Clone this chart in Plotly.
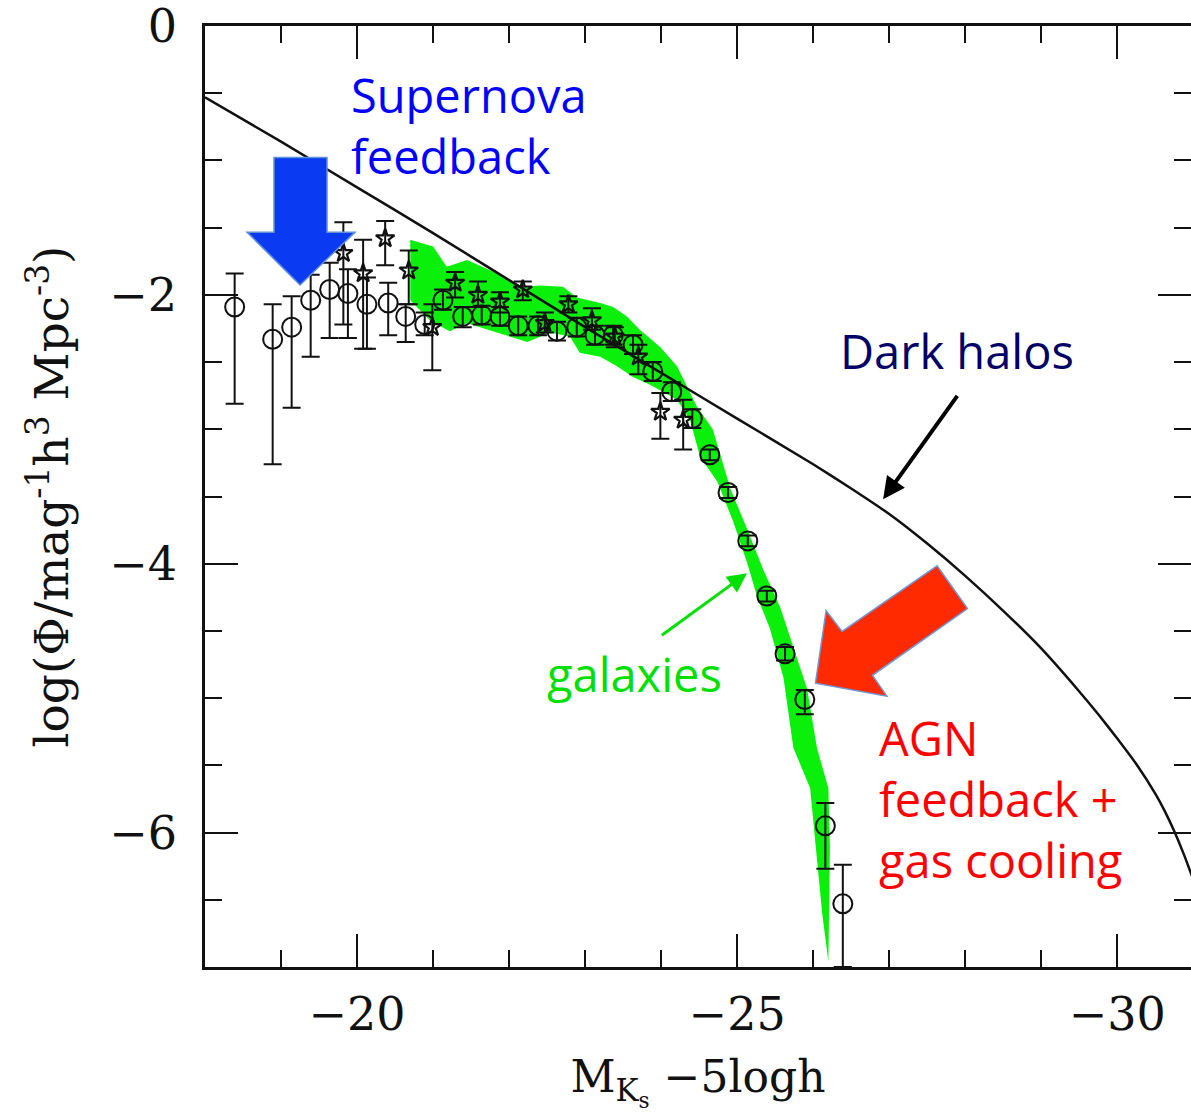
import plotly.graph_objects as go

# ---------------- data ----------------
# Dark-halo mass function (solid black line)
halo_M = [-18.0, -19.0, -20.0, -21.0, -22.0, -23.0, -24.0, -25.0, -26.0, -26.5,
          -27.0, -27.5, -28.0, -28.5, -29.0, -29.5, -29.75, -30.0, -30.25, -30.5,
          -30.625, -30.75, -30.875, -31.0]
halo_logphi = [-0.53, -0.86, -1.20, -1.54, -1.89, -2.24, -2.58, -2.92, -3.26, -3.44,
               -3.63, -3.85, -4.09, -4.35, -4.63, -4.95, -5.12, -5.30, -5.49, -5.71,
               -5.84, -5.99, -6.16, -6.35]

# Green model band (upper and lower edges)
band_upper_M = [-20.70, -21.00, -21.18, -21.45, -21.88, -22.18, -22.41, -22.71, -22.89, -23.20,
                -23.37, -23.55, -23.72, -23.99, -24.21, -24.47, -24.68, -24.78, -24.91, -25.13,
                -25.34, -25.57, -25.74, -25.92, -26.05, -26.20, -26.22, -26.20]
band_upper = [-1.59, -1.64, -1.79, -1.74, -1.85, -1.94, -1.93, -1.94, -2.02, -2.06,
              -2.09, -2.16, -2.26, -2.39, -2.53, -2.83, -3.00, -3.20, -3.44, -3.74,
              -4.04, -4.33, -4.63, -4.93, -5.37, -5.67, -6.11, -6.96]
band_lower_M = [-20.70, -20.96, -21.22, -21.45, -21.84, -22.24, -22.54, -22.80, -22.93, -23.20,
                -23.42, -23.63, -23.86, -24.21, -24.38, -24.51, -24.74, -24.95, -25.13, -25.26,
                -25.43, -25.61, -25.74, -25.96, -26.03, -26.12]
band_lower = [-2.04, -2.19, -2.27, -2.21, -2.28, -2.35, -2.28, -2.31, -2.43, -2.46,
              -2.53, -2.61, -2.67, -2.78, -2.93, -3.20, -3.39, -3.69, -3.99, -4.24,
              -4.48, -4.85, -5.37, -5.67, -6.11, -6.61]

# Open circles with error bars
circ_M = [-18.39, -18.89, -19.14, -19.39, -19.64, -19.88, -20.13, -20.41, -20.64, -20.89,
          -21.13, -21.39, -21.64, -21.88, -22.12, -22.38, -22.63, -22.89, -23.13, -23.37,
          -23.63, -23.89, -24.14, -24.41, -24.64, -24.88, -25.14, -25.39, -25.63, -25.89,
          -26.16, -26.39]
circ_logphi = [-2.09, -2.33, -2.24, -2.04, -1.96, -1.99, -2.07, -2.06, -2.16, -2.22,
               -2.04, -2.16, -2.15, -2.16, -2.23, -2.23, -2.27, -2.24, -2.30, -2.30,
               -2.37, -2.57, -2.72, -2.92, -3.19, -3.47, -3.83, -4.24, -4.67, -5.01,
               -5.95, -6.53]
circ_err_plus = [0.25, 0.26, 0.23, 0.19, 0.20, 0.18, 0.20, 0.15, 0.09, 0.09,
                 0.08, 0.07, 0.07, 0.07, 0.07, 0.07, 0.07, 0.07, 0.07, 0.07,
                 0.07, 0.07, 0.07, 0.07, 0.04, 0.04, 0.04, 0.04, 0.05, 0.07,
                 0.17, 0.29]
circ_err_minus = [0.72, 0.93, 0.60, 0.42, 0.36, 0.33, 0.33, 0.24, 0.19, 0.08,
                  0.07, 0.08, 0.07, 0.07, 0.07, 0.07, 0.07, 0.07, 0.07, 0.07,
                  0.07, 0.07, 0.07, 0.07, 0.04, 0.04, 0.04, 0.04, 0.05, 0.11,
                  0.32, 0.47]

# Stars with error bars
star_M = [-19.82, -20.08, -20.37, -20.68, -20.99, -21.29, -21.59, -21.88, -22.18, -22.47,
          -22.78, -23.09, -23.39, -23.70, -23.99, -24.29]
star_logphi = [-1.69, -1.84, -1.58, -1.82, -2.24, -1.91, -2.00, -2.05, -1.96, -2.21,
               -2.07, -2.19, -2.31, -2.46, -2.87, -2.93]
star_err_plus = [0.23, 0.25, 0.13, 0.15, 0.17, 0.08, 0.10, 0.07, 0.06, 0.08,
                 0.06, 0.09, 0.07, 0.09, 0.14, 0.15]
star_err_minus = [0.53, 0.56, 0.20, 0.25, 0.32, 0.11, 0.09, 0.08, 0.08, 0.07,
                  0.06, 0.07, 0.08, 0.13, 0.20, 0.22]

x_ticks = [-20, -25, -30]
y_ticks = [0, -2, -4, -6]

# ---------------- figure ----------------
fig = go.Figure()

fig.add_trace(go.Scatter(
    x=band_upper_M + band_lower_M[::-1],
    y=band_upper + band_lower[::-1],
    fill="toself", fillcolor="#0af00a", mode="lines",
    line=dict(width=0, color="#0af00a"), hoverinfo="skip", showlegend=False))

fig.add_trace(go.Scatter(
    x=halo_M, y=halo_logphi, mode="lines",
    line=dict(color="#111111", width=2.5, shape="spline", smoothing=0.5),
    showlegend=False))

fig.add_trace(go.Scatter(
    x=star_M, y=star_logphi, mode="markers",
    marker=dict(symbol="star-open", size=14, color="#111111", line=dict(width=2.2, color="#111111")),
    error_y=dict(type="data", symmetric=False, array=star_err_plus, arrayminus=star_err_minus,
                 color="#111111", thickness=2, width=9),
    showlegend=False))

fig.add_trace(go.Scatter(
    x=circ_M, y=circ_logphi, mode="markers",
    marker=dict(symbol="circle-open", size=19, color="#111111", line=dict(width=2, color="#111111")),
    error_y=dict(type="data", symmetric=False, array=circ_err_plus, arrayminus=circ_err_minus,
                 color="#111111", thickness=2, width=9),
    showlegend=False))

# ---------------- decorations: block arrows ----------------
def path(pts):
    return "M " + " L ".join(f"{a},{b}" for a, b in pts) + " Z"

blue_arrow = [(-18.908, -0.978), (-19.605, -0.978), (-19.605, -1.533), (-19.974, -1.533),
              (-19.25, -1.926), (-18.553, -1.533), (-18.908, -1.533)]
red_arrow = [(-27.63, -4.015), (-28.03, -4.333), (-26.78, -4.830), (-26.97, -4.985),
             (-26.03, -4.889), (-26.17, -4.348), (-26.38, -4.504)]

fig.add_shape(type="path", path=path(blue_arrow), xref="x", yref="y",
              fillcolor="#0a3af2", line=dict(color="#5f8fd6", width=1.5))
fig.add_shape(type="path", path=path(red_arrow), xref="x", yref="y",
              fillcolor="#ff2a00", line=dict(color="#6f98d6", width=1.5))

# thin arrows
fig.add_annotation(x=-26.92, y=-3.52, ax=-27.91, ay=-2.74, axref="x", ayref="y", xref="x", yref="y",
                   text="", showarrow=True, arrowhead=2, arrowsize=1.1, arrowwidth=4,
                   arrowcolor="#000000", standoff=0)
fig.add_annotation(x=-25.13, y=-4.07, ax=-23.99, ay=-4.54, axref="x", ayref="y", xref="x", yref="y",
                   text="", showarrow=True, arrowhead=2, arrowsize=1.3, arrowwidth=3,
                   arrowcolor="#00e000", standoff=0)

lab_font = "Open Sans, Lato, sans-serif"
fig.add_annotation(x=-19.90, y=-0.74, xref="x", yref="y", xanchor="left", yanchor="middle",
                   text="Supernova<br>feedback", showarrow=False, align="left",
                   font=dict(family=lab_font, size=47, color="#0000ff"))
fig.add_annotation(x=-26.33, y=-2.42, xref="x", yref="y", xanchor="left", yanchor="middle",
                   text="Dark halos", showarrow=False, align="left",
                   font=dict(family=lab_font, size=47, color="#000066"))
fig.add_annotation(x=-22.47, y=-4.82, xref="x", yref="y", xanchor="left", yanchor="middle",
                   text="galaxies", showarrow=False, align="left",
                   font=dict(family=lab_font, size=47, color="#00e000"))
fig.add_annotation(x=-26.84, y=-5.75, xref="x", yref="y", xanchor="left", yanchor="middle",
                   text="AGN<br>feedback +<br>gas cooling", showarrow=False, align="left",
                   font=dict(family=lab_font, size=47, color="#ff0000"))

axis_font = dict(family="DejaVu Serif, serif", size=46, color="#111111")

fig.update_xaxes(
    range=[-18, -30.97], autorange=False,
    tickmode="array", tickvals=x_ticks, ticktext=[f"\u2212{abs(v)}" for v in x_ticks],
    ticks="inside", ticklen=33, tickwidth=2, tickcolor="#111111",
    minor=dict(dtick=1, tick0=0, ticks="inside", ticklen=17, tickwidth=2, tickcolor="#111111"),
    showline=True, linewidth=2.5, linecolor="#111111", mirror="ticks",
    showgrid=False, zeroline=False, tickfont=axis_font, ticklabelstandoff=5,
    ticklabeloverflow="allow",
    title=dict(text="M<sub>K<sub>s</sub></sub> \u22125logh",
               font=dict(family="DejaVu Serif, serif", size=44, color="#111111"), standoff=22),
)
fig.update_yaxes(
    range=[-7, 0.0005], autorange=False,
    tickmode="array", tickvals=y_ticks, ticktext=["0" if v == 0 else f"\u2212{abs(v)}" for v in y_ticks],
    ticks="inside", ticklen=33, tickwidth=2, tickcolor="#111111",
    minor=dict(dtick=0.5, tick0=0, ticks="inside", ticklen=17, tickwidth=2, tickcolor="#111111"),
    showline=True, linewidth=2.5, linecolor="#111111", mirror="ticks",
    showgrid=False, zeroline=False, tickfont=axis_font, ticklabelstandoff=16,
    ticklabeloverflow="allow",
    title=dict(text="log(\u03a6/mag<sup>-1</sup>h<sup>3</sup> Mpc<sup>-3</sup>)",
               font=dict(family="DejaVu Serif, serif", size=47, color="#111111"), standoff=26),
)

fig.update_layout(
    width=1191, height=1114, autosize=False,
    margin=dict(l=205, r=0, t=26, b=147, autoexpand=False),
    paper_bgcolor="white", plot_bgcolor="white",
    showlegend=False,
)

fig.write_html("out.html")
